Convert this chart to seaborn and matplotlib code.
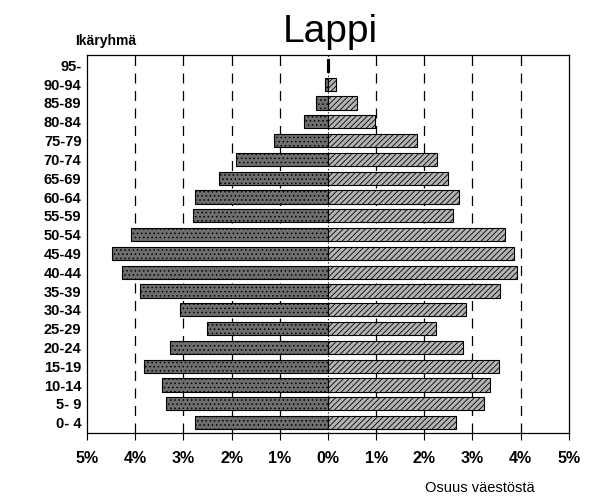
import pandas as pd
import matplotlib
matplotlib.use('Agg')
import matplotlib.pyplot as plt
import seaborn as sns

# Age groups, top to bottom
ages = ['95-', '90-94', '85-89', '80-84', '75-79', '70-74', '65-69', '60-64',
        '55-59', '50-54', '45-49', '40-44', '35-39', '30-34', '25-29',
        '20-24', '15-19', '10-14', '5- 9', '0- 4']
# Share of population (%), men on the left, women on the right
men = [0.02, 0.05, 0.25, 0.5, 1.12, 1.9, 2.26, 2.76, 2.8, 4.09, 4.48, 4.27,
       3.9, 3.07, 2.51, 3.28, 3.82, 3.44, 3.36, 2.76]
women = [0.03, 0.17, 0.6, 0.97, 1.85, 2.27, 2.49, 2.73, 2.6, 3.68, 3.86,
         3.92, 3.58, 2.87, 2.25, 2.81, 3.55, 3.36, 3.23, 2.65]
xticks = [-5, -4, -3, -2, -1, 0, 1, 2, 3, 4, 5]
xlabels = ['5%', '4%', '3%', '2%', '1%', '0%', '1%', '2%', '3%', '4%', '5%']

df = pd.DataFrame({'age': ages, 'men': [-m for m in men], 'women': women})

sns.set_style('white')
plt.rcParams['font.family'] = ['Liberation Sans', 'DejaVu Sans']
plt.rcParams['hatch.linewidth'] = 0.6
plt.rcParams['text.color'] = 'black'
plt.rcParams['xtick.color'] = 'black'
plt.rcParams['ytick.color'] = 'black'

fig = plt.figure(figsize=(6, 4.98), dpi=100)
ax = fig.add_axes([0.145, 0.1305, 0.803, 0.759])

# gridlines behind bars
for t in xticks[1:-1]:
    if t != 0:
        ax.axvline(t, color='black', lw=0.9, ls=(0, (8, 6)), zorder=0)

sns.barplot(data=df, x='men', y='age', order=ages, orient='h', ax=ax,
            color='#6e6e6e', edgecolor='black', linewidth=0.8, width=0.7,
            saturation=1)
n_men = len(ax.patches)
sns.barplot(data=df, x='women', y='age', order=ages, orient='h', ax=ax,
            color='#b4b4b4', edgecolor='black', linewidth=0.8, width=0.7,
            saturation=1)
for i, p in enumerate(ax.patches):
    if i < n_men:
        p.set_hatch('....')
    else:
        p.set_hatch('//////')
    p.set_zorder(2)

# dotted zero line drawn over the bars
ax.axvline(0, color='black', lw=0.8, ls=(0, (1, 2)), zorder=3)

ax.set_xlim(-5, 5)
ax.set_ylim(len(ages) - 0.45, -0.55)
ax.set_xticks(xticks)
ax.set_xticklabels(xlabels, fontsize=11.5, fontweight='bold')
ax.set_yticklabels(ages, fontsize=10.5, fontweight='bold')
ax.tick_params(axis='x', length=5, width=0.8, pad=8, direction='out', bottom=True)
ax.tick_params(axis='y', length=0, pad=4)
ax.set_xlabel('')
ax.set_ylabel('')
for s in ax.spines.values():
    s.set_color('black')
    s.set_linewidth(0.9)

fig.text(0.55, 0.935, 'Lappi', ha='center', va='center', fontsize=28)
fig.text(0.125, 0.918, 'Ikäryhmä', ha='left', va='center', fontsize=10,
         fontweight='bold')
fig.text(0.80, 0.02, 'Osuus väestöstä', ha='center', va='center', fontsize=10.5)

fig.savefig('out.png', dpi=100)
